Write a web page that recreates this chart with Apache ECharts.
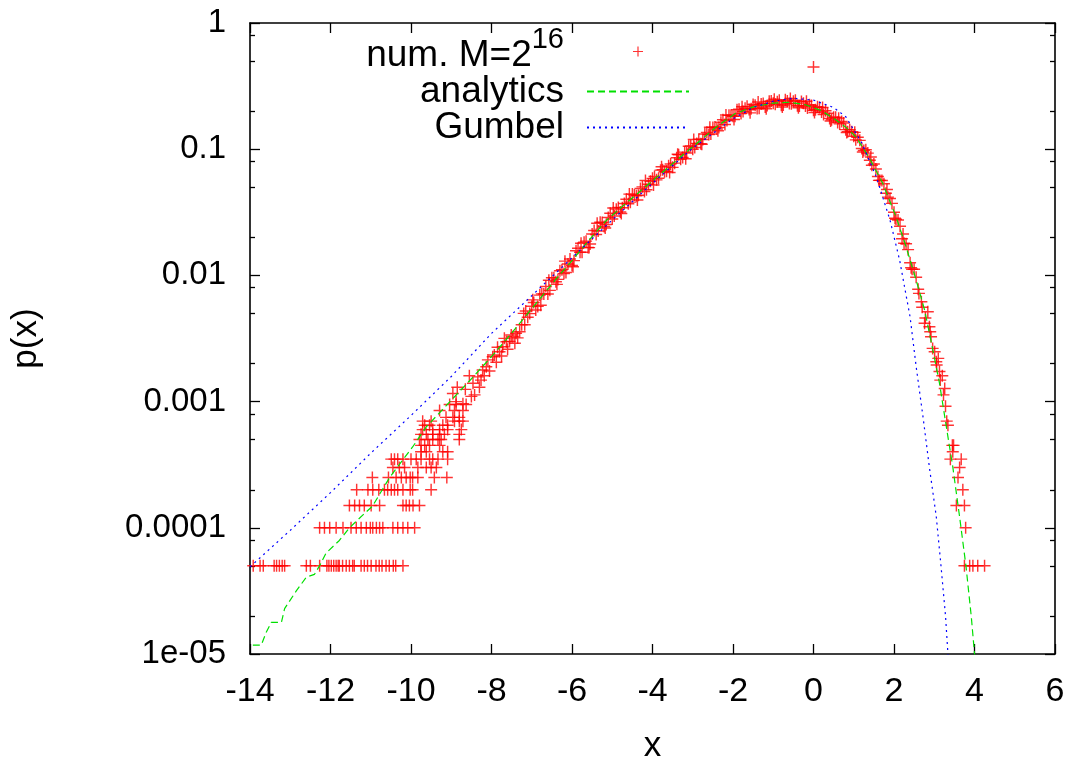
<!DOCTYPE html>
<html><head><meta charset="utf-8">
<script src="https://cdn.jsdelivr.net/npm/echarts@6/dist/echarts.min.js"></script>
<style>html,body{margin:0;padding:0;background:#fff}#c{width:1073px;height:762px}</style>
</head><body><div id="c"></div>
<script>
const FONT = "'Liberation Sans', Arial, Helvetica, sans-serif";

const yTickValues = [1e-5, 1e-4, 1e-3, 1e-2, 1e-1, 1];
const yTickLabels = ['1e-05', '0.0001', '0.001', '0.01', '0.1', '1'];
const yMinorTickValues = [2e-5,5e-5,8e-5,2e-4,5e-4,8e-4,2e-3,5e-3,8e-3,0.02,0.05,0.08,0.2,0.5,0.8];
const seriesNames = ['num. M=2^16', 'analytics', 'Gumbel'];

// numerical histogram: low-count rows
const numLowCounts = [
 [-13.92,5e-5],[-13.75,5e-5],[-13.67,5e-5],[-13.40,5e-5],[-13.34,5e-5],[-13.27,5e-5],[-13.20,5e-5],[-13.14,5e-5],[-12.60,5e-5],[-12.50,5e-5],[-12.27,5e-5],[-12.09,5e-5],[-12.04,5e-5],[-11.98,5e-5],[-11.92,5e-5],[-11.86,5e-5],[-11.81,5e-5],[-11.78,5e-5],[-11.70,5e-5],[-11.61,5e-5],[-11.53,5e-5],[-11.45,5e-5],[-11.41,5e-5],[-11.24,5e-5],[-11.16,5e-5],[-11.08,5e-5],[-10.99,5e-5],[-10.87,5e-5],[-10.79,5e-5],[-10.72,5e-5],[-10.62,5e-5],[-10.54,5e-5],[-10.44,5e-5],[-10.38,5e-5],[-10.20,5e-5],
 [-12.27,1e-4],[-12.15,1e-4],[-12.02,1e-4],[-11.86,1e-4],[-11.69,1e-4],[-11.49,1e-4],[-11.36,1e-4],[-11.24,1e-4],[-11.11,1e-4],[-11.01,1e-4],[-10.95,1e-4],[-10.86,1e-4],[-10.78,1e-4],[-10.70,1e-4],[-10.45,1e-4],[-10.33,1e-4],[-10.20,1e-4],[-10.08,1e-4],[-9.91,1e-4],
 [-11.53,1.5e-4],[-11.40,1.5e-4],[-11.28,1.5e-4],[-11.16,1.5e-4],[-10.99,1.5e-4],[-10.78,1.5e-4],[-10.20,1.5e-4],[-10.12,1.5e-4],[-10.04,1.5e-4],[-9.95,1.5e-4],[-9.79,1.5e-4],
 [-11.35,2e-4],[-11.07,2e-4],[-10.95,2e-4],[-10.80,2e-4],[-10.66,2e-4],[-10.58,2e-4],[-10.49,2e-4],[-10.41,2e-4],[-10.33,2e-4],[-10.20,2e-4],[-10.02,2e-4],[-9.96,2e-4],[-9.50,2e-4],
 [-10.96,2.5e-4],[-10.56,2.5e-4],[-10.37,2.5e-4],[-10.24,2.5e-4],[-10.12,2.5e-4],[-10.02,2.5e-4],[-9.96,2.5e-4],[-9.83,2.5e-4],[-9.42,2.5e-4],[-9.11,2.5e-4],
 [-10.45,3e-4],[-10.29,3e-4],[-10.16,3e-4],[-9.83,3e-4],[-9.62,3e-4],[-9.50,3e-4],[-9.37,3e-4],
 [-10.49,3.5e-4],[-10.41,3.5e-4],[-10.33,3.5e-4],[-10.20,3.5e-4],[-10.00,3.5e-4],[-9.87,3.5e-4],[-9.75,3.5e-4],[-9.54,3.5e-4],[-9.46,3.5e-4],[-9.33,3.5e-4],[-9.09,3.5e-4],
 [-9.75,4e-4],[-9.62,4e-4],[-9.21,4e-4],[-9.09,4e-4],
 [-9.75,4.5e-4],[-9.66,4.5e-4],[-9.54,4.5e-4],[-9.29,4.5e-4],
 [-9.79,5e-4],[-9.58,5e-4],[-9.46,5e-4],[-9.33,5e-4],[-9.25,5e-4],[-8.80,5e-4],
 [-9.75,5.5e-4],[-9.62,5.5e-4],[-9.46,5.5e-4],[-9.29,5.5e-4],[-9.17,5.5e-4],[-8.80,5.5e-4],
 [-9.71,6e-4],[-9.46,6e-4],[-9.29,6e-4],[-9.09,6e-4],[-8.75,6e-4],
 [-9.66,6.5e-4],[-9.54,6.5e-4],[-9.21,6.5e-4],[-9.09,6.5e-4],
 [-9.71,7e-4],[-9.50,7e-4],[-8.92,7e-4],[-8.80,7e-4],[-8.71,7e-4],
 [-9.13,7.5e-4],[-8.96,7.5e-4],[-8.80,7.5e-4],
 [-9.29,8.5e-4],[-8.92,8.5e-4],[-8.71,8.5e-4],
 [-9.04,9.5e-4],[-8.88,9.5e-4],[-8.63,9.5e-4]
];

// numerical histogram: transition region
const numBandLeft = [
 [-8.96,1.16e-3],[-8.88,1.0e-3],[-8.85,1.3e-3],[-8.71,9.6e-4],[-8.65,1.25e-3],[-8.55,1.6e-3],[-8.50,1.1e-3],[-8.46,1.4e-3],[-8.42,1.13e-3],[-8.34,1.57e-3],[-8.30,1.3e-3],[-8.26,1.48e-3],[-8.22,1.78e-3],[-8.18,1.6e-3],[-8.13,1.89e-3],[-8.09,2.14e-3],[-8.05,1.75e-3],[-7.97,2.27e-3],[-7.93,2.34e-3],[-7.88,2.05e-3],[-7.85,2.7e-3],[-7.80,2.48e-3],[-7.75,2.3e-3],[-7.72,2.72e-3],[-7.68,3.17e-3],[-7.63,2.98e-3],[-7.60,2.6e-3],[-7.55,3.0e-3],[-7.51,3.37e-3],[-7.47,3.27e-3],[-7.42,2.9e-3],[-7.39,3.48e-3],[-7.35,3.2e-3],[-7.30,3.58e-3]
];

// numerical histogram: main band
const numBand = [
 [-7.2,0.00500],[-7.1,0.00466],[-7.0,0.00570],[-6.9,0.00531],[-6.8,0.00698],[-6.7,0.00713],[-6.6,0.00711],[-6.5,0.00957],[-6.4,0.00891],[-6.3,0.01089],[-6.2,0.01033],[-6.1,0.01233],[-6.0,0.01197],[-5.9,0.0157],[-5.8,0.01528],[-5.7,0.01828],[-5.6,0.01663],[-5.5,0.02128],[-5.4,0.02109],[-5.3,0.02636],[-5.2,0.02438],[-5.1,0.02877],[-5.0,0.02799],
 [-7.25,0.00407],[-7.15,0.00523],[-7.05,0.00498],[-6.95,0.00610],[-6.85,0.00568],[-6.75,0.00714],[-6.65,0.00818],[-6.55,0.00761],[-6.45,0.00956],[-6.35,0.0093],[-6.25,0.0111],[-6.15,0.01053],[-6.05,0.01347],[-5.95,0.01309],[-5.85,0.01641],[-5.75,0.01524],[-5.65,0.01868],[-5.55,0.01776],[-5.45,0.0227],[-5.35,0.02252],[-5.25,0.02624],[-5.15,0.02529],[-5.05,0.03112],
 [-4.9,0.0335],[-4.8,0.03184],[-4.7,0.03715],[-4.6,0.0369],[-4.5,0.04406],[-4.4,0.04276],[-4.3,0.04875],[-4.2,0.04624],[-4.1,0.05272],[-4.0,0.05875],[-3.9,0.05715],[-3.8,0.06823],[-3.7,0.06622],[-3.6,0.0738],[-3.5,0.07178],[-3.4,0.0857],[-3.3,0.0832],[-3.2,0.0948],[-3.1,0.1054],[-3.0,0.1],[-2.9,0.1112],[-2.8,0.1104],[-2.7,0.1318],[-2.6,0.1309],[-2.5,0.1489],[-2.4,0.1445],[-2.3,0.1633],[-2.2,0.1567],[-2.1,0.1854],[-2.0,0.1824],[-1.9,0.2051],[-1.8,0.1919],[-1.7,0.2109],[-1.6,0.2065],[-1.5,0.2265],[-1.4,0.2099],[-1.3,0.2286],[-1.2,0.2158],[-1.1,0.2399],[-1.0,0.2317],
 [-4.95,0.02958],[-4.85,0.03459],[-4.75,0.0344],[-4.65,0.04013],[-4.55,0.03806],[-4.45,0.04341],[-4.35,0.04311],[-4.25,0.05029],[-4.15,0.0477],[-4.05,0.05564],[-3.95,0.06067],[-3.85,0.05895],[-3.75,0.06879],[-3.65,0.06676],[-3.55,0.07621],[-3.45,0.07753],[-3.35,0.09046],[-3.25,0.0858],[-3.15,0.09333],[-3.05,0.1063],[-2.95,0.1030],[-2.85,0.1201],[-2.75,0.1192],[-2.65,0.1360],[-2.55,0.1318],[-2.45,0.1501],[-2.35,0.1484],[-2.25,0.1714],[-2.15,0.1685],[-2.05,0.1860],[-1.95,0.1826],[-1.85,0.2077],[-1.75,0.1988],[-1.65,0.2185],[-1.55,0.2089],[-1.45,0.2231],[-1.35,0.2115],[-1.25,0.2299],[-1.15,0.2223],[-1.05,0.2413],
 [-0.9,0.2382],[-0.8,0.2234],[-0.7,0.2460],[-0.6,0.2301],[-0.5,0.2399],[-0.4,0.2213],[-0.3,0.2388],[-0.2,0.2198],[-0.1,0.2249],[0.0,0.2037],[0.1,0.2173],[0.2,0.1972],[0.3,0.2018],[0.4,0.1754],[0.5,0.1795],[0.6,0.1629],[0.7,0.1656],[0.8,0.1429],[0.9,0.1426],[1.0,0.1268],[1.1,0.1245],[1.2,0.1012],[1.3,0.0989],[1.4,0.0818],[1.5,0.0764],[1.6,0.0607],[1.7,0.0565],[1.8,0.0447],[1.9,0.0407],[2.0,0.0316],[2.1,0.0275],[2.2,0.0195],[2.3,0.0178],[2.4,0.0126],[2.5,0.0112],[2.6,0.00776],
 [-0.95,0.2270],[-0.85,0.2443],[-0.75,0.2239],[-0.65,0.2407],[-0.55,0.2296],[-0.45,0.2441],[-0.35,0.2195],[-0.25,0.2317],[-0.15,0.2123],[-0.05,0.2216],[0.05,0.2056],[0.15,0.2143],[0.25,0.1884],[0.35,0.1925],[0.45,0.1714],[0.55,0.1791],[0.65,0.1587],[0.75,0.1611],[0.85,0.1378],[0.95,0.1375],[1.05,0.1186],[1.15,0.1175],[1.25,0.0977],[1.35,0.0931],[1.45,0.0746],[1.55,0.0697],[1.65,0.0566],[1.75,0.0532],[1.85,0.0417],[1.95,0.0372],[2.05,0.0279],[2.15,0.0245],[2.25,0.0180],[2.35,0.0160],[2.45,0.0112],[2.55,0.00966]
];

// numerical histogram: outer spread of the band
const numBandSpread = [
 [-7.175,0.00406],[-6.975,0.0064],[-6.775,0.00581],[-6.575,0.00916],[-6.375,0.00849],[-6.175,0.01297],[-5.975,0.01169],[-5.775,0.01795],[-5.575,0.0166],[-5.375,0.02588],[-5.175,0.02371],[-4.975,0.0342],[-4.775,0.0309],[-4.575,0.04406],[-4.375,0.03963],[-4.175,0.05649],[-3.975,0.052],[-3.775,0.07261],[-3.575,0.06531],[-3.375,0.0912],[-3.175,0.08395],[-2.975,0.1192],[-2.775,0.1096],[-2.575,0.1491],[-2.375,0.14],[-2.175,0.1866],[-1.975,0.1722],[-1.775,0.2168],[-1.575,0.1941],[-1.375,0.2366],[-1.175,0.2092],[-0.975,0.2485],[-0.775,0.216],[-0.575,0.2520],[-0.375,0.2128],[-0.175,0.2396],[0.025,0.1954],[0.225,0.2138],[0.425,0.1675],[0.625,0.1762],[0.825,0.1355],[1.025,0.136],[1.225,0.0950],[1.425,0.0867],[1.625,0.0566],[1.825,0.0479],[2.025,0.02835],[2.225,0.02126],[2.425,0.01148]
];

// numerical histogram: right tail
const numRightTail = [
 [2.62,7.2e-3],[2.68,6.19e-3],[2.70,5.6e-3],[2.76,4.17e-3],[2.78,4.6e-3],[2.84,5.15e-3],[2.88,3.92e-3],[2.90,3.58e-3],[2.92,3.27e-3],[2.96,2.64e-3],[3.01,2.48e-3],[3.05,2.07e-3],[3.06,1.95e-3],[3.10,2.2e-3],[3.13,1.73e-3],[3.15,1.48e-3],[3.20,1.6e-3],[3.26,1.27e-3],[3.23,1.13e-3],[3.28,9.2e-4],[3.31,7.0e-4],[3.34,6.5e-4],[3.45,4.5e-4],[3.48,4.5e-4],[3.46,4e-4],[3.40,3.5e-4],[3.67,3.5e-4],[3.63,3e-4],[3.59,2.5e-4],[3.71,2e-4],[3.55,1.5e-4],[3.75,1.5e-4],[3.78,1e-4],[3.75,5e-5],[3.88,5e-5],[3.96,5e-5],[4.08,5e-5],[4.25,5e-5]
];

const numOutlier = [[0.0,0.448]];

// analytic curve
const analyticsX = [-13.93,-13.72,-13.60,-13.47,-13.22,-13.14,-12.85,-12.60,-12.40,-12.27,-12.11,-11.78,-11.53,-11.20,-10.96,-10.53,-9.96,-9.62,-9.12,-8.47,-7.88,-7.48,-6.81,-6.40,-5.98,-5.55,-5.15,-4.72,-4.32,-3.83,-3.30,-2.83,-2.40,-1.96,-1.50,-1.00,-0.60,-0.20,0.20,0.56,0.80,1.06,1.39,1.72,2.05,2.30,2.55,2.76,2.92,3.13,3.30,3.46,3.63,3.79,3.92,4.00,4.05];
const analyticsP = [1.175e-5,1.175e-5,1.48e-5,1.78e-5,1.78e-5,2.29e-5,3.16e-5,4.07e-5,4.27e-5,5.01e-5,6.31e-5,7.94e-5,1.0e-4,1.26e-4,1.48e-4,2.51e-4,4.37e-4,6.31e-4,9.33e-4,1.55e-3,2.51e-3,3.55e-3,6.46e-3,9.33e-3,0.01334,0.0195,0.0272,0.0359,0.0460,0.0625,0.0871,0.1161,0.1514,0.1905,0.2163,0.2317,0.2355,0.2249,0.2018,0.1702,0.1496,0.1245,0.0851,0.0537,0.0292,0.01687,0.0092,0.00532,0.00302,0.0014,6.32e-4,3.05e-4,1.22e-4,4.92e-5,1.98e-5,1.01e-5,7.1e-6];

// Gumbel curve
const gumbelX = [-14,-13,-12,-11,-10,-9,-8,-7,-6,-5,-4,-3,-2,-1.5,-1,-0.5,0,0.5,0.8,1.2,1.56,1.9,2.14,2.4,2.55,2.72,2.88,3.05,3.17,3.28,3.34,3.4];
const gumbelP = [4.9e-5,9.55e-5,1.9e-4,3.9e-4,7.76e-4,1.58e-3,3.47e-3,6.9e-3,0.0138,0.0275,0.0537,0.102,0.174,0.214,0.240,0.253,0.245,0.214,0.181,0.112,0.0605,0.0275,0.0132,0.00468,0.0019,7.6e-4,3.0e-4,1.23e-4,4.9e-5,2.0e-5,1.0e-5,5e-6];

const PLUS = 'path://M4.4,0H5.6V4.4H10V5.6H5.6V10H4.4V5.6H0V4.4H4.4Z';
const zip = (xs, ys) => xs.map((x, i) => [x, ys[i]]);
const axisLineStyle = { color: '#000', width: 1.6 };
const tickLineStyle = { color: '#000', width: 1.3 };

const chart = echarts.init(document.getElementById('c'), null, { renderer: 'canvas' });

function yAxisDef(pos, minor, withLabels) {
  return {
    type: 'log', logBase: 10, min: 1e-5, max: 1, position: pos, offset: 0,
    axisLine: { show: !minor, onZero: false, lineStyle: axisLineStyle },
    axisTick: { show: true, inside: true, length: minor ? 5 : 10, customValues: minor ? yMinorTickValues : yTickValues, lineStyle: tickLineStyle },
    axisLabel: withLabels ? {
      show: true, customValues: yTickValues, margin: 24, color: '#000', fontSize: 33, fontFamily: FONT,
      formatter: function (v) {
        const i = yTickValues.findIndex(t => Math.abs(Math.log10(t) - Math.log10(v)) < 0.01);
        return i >= 0 ? yTickLabels[i] : '';
      }
    } : { show: false },
    splitLine: { show: false },
    minorTick: { show: false },
    name: withLabels ? 'p(x)' : '',
    nameLocation: 'middle', nameGap: 206, nameMoveOverlap: false,
    nameTextStyle: { fontSize: 35, fontFamily: FONT, color: '#000' }
  };
}

const option = {
  animation: false,
  backgroundColor: '#fff',
  grid: { left: 250, right: 18, top: 23, bottom: 108, containLabel: false, outerBoundsMode: 'none' },
  legend: {
    orient: 'vertical', align: 'right', right: 383, top: 25, padding: 0,
    itemWidth: 102, itemHeight: 10, itemGap: -1,
    selectedMode: false,
    formatter: function (name) { return name === seriesNames[0] ? '{a|num. M=2}{s|16}' : name; },
    textStyle: {
      fontSize: 37, fontFamily: FONT, color: '#000', lineHeight: 37, padding: [0, 18, 0, 0]
    },
    data: [
      { name: seriesNames[0], icon: PLUS,
        textStyle: {
          fontSize: 37, fontFamily: FONT, color: '#000', lineHeight: 37, padding: [0, 18, 0, 0],
          rich: {
            a: { fontSize: 37, fontFamily: FONT, color: '#000', lineHeight: 37, height: 29, verticalAlign: 'bottom' },
            s: { fontSize: 29, fontFamily: FONT, color: '#000', lineHeight: 1, height: 13, verticalAlign: 'top' }
          }
        } },
      { name: seriesNames[1], itemStyle: { opacity: 0 } },
      { name: seriesNames[2], itemStyle: { opacity: 0 } }
    ]
  },
  xAxis: [
    {
      type: 'value', min: -14, max: 6, interval: 2, position: 'bottom',
      axisLine: { show: true, onZero: false, lineStyle: axisLineStyle },
      axisTick: { show: true, inside: true, length: 10, lineStyle: tickLineStyle },
      axisLabel: { color: '#000', fontSize: 34, fontFamily: FONT, margin: 21 },
      splitLine: { show: false },
      name: 'x', nameLocation: 'middle', nameGap: 75, nameMoveOverlap: false,
      nameTextStyle: { fontSize: 35, fontFamily: FONT, color: '#000' }
    },
    {
      type: 'value', min: -14, max: 6, interval: 2, position: 'top',
      axisLine: { show: true, onZero: false, lineStyle: axisLineStyle },
      axisTick: { show: true, inside: true, length: 10, lineStyle: tickLineStyle },
      axisLabel: { show: false }, splitLine: { show: false }
    }
  ],
  yAxis: [
    yAxisDef('left', false, true),
    yAxisDef('right', false, false),
    yAxisDef('left', true, false),
    yAxisDef('right', true, false)
  ],
  series: [
    {
      name: seriesNames[0], type: 'scatter', xAxisIndex: 0, yAxisIndex: 0,
      symbol: PLUS, symbolSize: 12,
      itemStyle: { color: '#ff0000' },
      data: [].concat(numLowCounts, numBandLeft, numBand, numBandSpread, numRightTail, numOutlier),
      z: 2
    },
    {
      name: seriesNames[1], type: 'line', xAxisIndex: 0, yAxisIndex: 0,
      symbol: 'none', showSymbol: false, smooth: false,
      lineStyle: { color: '#00e000', width: 1.2, type: [7, 4] },
      itemStyle: { color: '#00e000' },
      data: zip(analyticsX, analyticsP), z: 3
    },
    {
      name: seriesNames[2], type: 'line', xAxisIndex: 0, yAxisIndex: 0,
      symbol: 'none', showSymbol: false, smooth: false,
      lineStyle: { color: '#0000ff', width: 1.2, type: [2, 4] },
      itemStyle: { color: '#0000ff' },
      data: zip(gumbelX, gumbelP), z: 4
    }
  ]
};
chart.setOption(option);
</script>
</body></html>
